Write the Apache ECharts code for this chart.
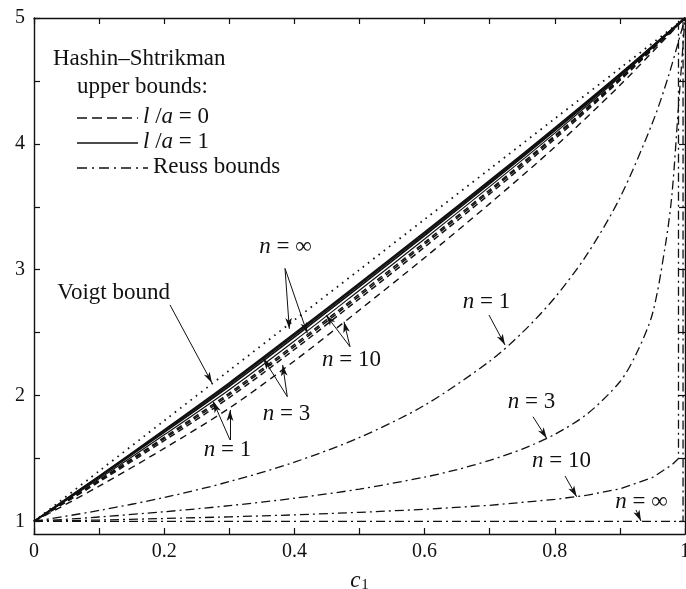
<!DOCTYPE html>
<html>
<head>
<meta charset="utf-8">
<script src="https://cdn.jsdelivr.net/npm/echarts@6/dist/echarts.min.js"></script>
<style>
  html, body { margin: 0; padding: 0; background: #fff; }
  #chart { width: 686px; height: 589px; }
</style>
</head>
<body>
<div id="chart"></div>
<script>
// axis ticks / labels
const xTicks = [0, 0.1, 0.2, 0.3, 0.4, 0.5, 0.6, 0.7, 0.8, 0.9, 1];
const xLabels = [0, 0.2, 0.4, 0.6, 0.8, 1];
const yTicks = [1, 1.5, 2, 2.5, 3, 3.5, 4, 4.5, 5];
const yLabels = [1, 2, 3, 4, 5];

// c1 grid for the upper bounds
const cGrid = [0, 0.1, 0.2, 0.3, 0.4, 0.5, 0.6, 0.7, 0.8, 0.9, 1];
const voigt = [1, 1.4, 1.8, 2.2, 2.6, 3.0, 3.4, 3.8, 4.2, 4.6, 5];

// Hashin-Shtrikman upper bounds, l/a = 1 (solid)
const hsSolidInf = [1, 1.360, 1.727, 2.101, 2.493, 2.894, 3.299, 3.709, 4.126, 4.555, 5];
const hsSolid10 = [1, 1.356, 1.719, 2.089, 2.480, 2.882, 3.287, 3.698, 4.117, 4.550, 5];
const hsSolid3 = [1, 1.350, 1.708, 2.074, 2.464, 2.866, 3.272, 3.685, 4.106, 4.543, 5];
const hsSolid1 = [1, 1.339, 1.688, 2.047, 2.434, 2.837, 3.244, 3.660, 4.085, 4.531, 5];

// Hashin-Shtrikman upper bounds, l/a = 0 (dashed)
const hsDashInf = [1, 1.328, 1.668, 2.020, 2.405, 2.808, 3.217, 3.635, 4.065, 4.519, 5];
const hsDash10 = [1, 1.322, 1.657, 2.005, 2.389, 2.792, 3.202, 3.621, 4.054, 4.512, 5];
const hsDash3 = [1, 1.314, 1.642, 1.984, 2.366, 2.770, 3.180, 3.602, 4.038, 4.503, 5];
const hsDash1 = [1, 1.280, 1.580, 1.900, 2.275, 2.680, 3.095, 3.525, 3.975, 4.465, 5];

// Reuss bounds (dash-dot)
const reuss1X = [0, 0.1, 0.2, 0.3, 0.4, 0.5, 0.6, 0.7, 0.75, 0.8, 0.85, 0.9, 0.95, 0.975, 1];
const reuss1Y = [1, 1.087, 1.190, 1.316, 1.471, 1.667, 1.923, 2.273, 2.5, 2.778, 3.125, 3.571, 4.167, 4.545, 5];
const reuss3X = [0, 0.1, 0.2, 0.3, 0.4, 0.5, 0.6, 0.65, 0.7, 0.75, 0.8, 0.85, 0.9, 0.925, 0.95, 0.97, 0.98, 0.99, 1];
const reuss3Y = [1, 1.035, 1.077, 1.125, 1.184, 1.257, 1.352, 1.412, 1.485, 1.575, 1.692, 1.855, 2.11, 2.33, 2.65, 3.2, 3.6, 4.3, 5];
const reuss10X = [0, 0.1, 0.2, 0.3, 0.4, 0.5, 0.6, 0.7, 0.8, 0.85, 0.9, 0.95, 0.98, 0.99, 0.99];
const reuss10Y = [1, 1.011, 1.023, 1.036, 1.052, 1.072, 1.096, 1.128, 1.175, 1.209, 1.259, 1.349, 1.45, 1.5, 5];
const reussInfX = [0, 0.997, 0.997];
const reussInfY = [1, 1, 5];

// annotation texts and arrows (data coordinates)
const notes = [
  { text: 'Voigt bound', at: [0.123, 2.815] },
  { text: '{i|n} = ∞', at: [0.387, 3.173] },
  { text: '{i|n} = 10', at: [0.4885, 2.275] },
  { text: '{i|n} = 3', at: [0.3886, 1.85] },
  { text: '{i|n} = 1', at: [0.298, 1.567] },
  { text: '{i|n} = 1', at: [0.696, 2.743] },
  { text: '{i|n} = 3', at: [0.765, 1.949] },
  { text: '{i|n} = 10', at: [0.811, 1.480] },
  { text: '{i|n} = ∞', at: [0.934, 1.154] }
];
const arrows = [
  [[0.2089, 2.72], [0.2734, 2.10]],
  [[0.3856, 3.01], [0.3922, 2.53]],
  [[0.3856, 3.01], [0.4198, 2.495]],
  [[0.4854, 2.388], [0.4485, 2.64]],
  [[0.4854, 2.388], [0.4762, 2.587]],
  [[0.3891, 1.991], [0.3522, 2.296]],
  [[0.3891, 1.991], [0.382, 2.243]],
  [[0.3011, 1.647], [0.2754, 1.951]],
  [[0.3011, 1.647], [0.3011, 1.885]],
  [[0.6989, 2.640], [0.7235, 2.402]],
  [[0.7665, 1.832], [0.7876, 1.660]],
  [[0.8157, 1.361], [0.8336, 1.196]],
  [[0.9247, 1.091], [0.9324, 1.003]]
];

const ink = '#111';
const serif = 'Liberation Serif, Times New Roman, serif';
const DASH = [6, 4];
const DASHDOT = [9, 4, 2, 4];

const zip = (xs, ys) => xs.map((x, i) => [x, ys[i]]);

const lineSeries = (data, type, width) => ({
  type: 'line',
  data: data,
  showSymbol: false,
  symbol: 'none',
  smooth: 0.3,
  silent: true,
  lineStyle: { color: ink, width: width, type: type }
});

const chart = echarts.init(document.getElementById('chart'));

const tickStyle = { color: ink, width: 1.2 };
const axisLineStyle = { color: ink, width: 1.4 };
const italic = { fontFamily: serif, fontStyle: 'italic', fontSize: 23, fill: ink };

const option = {
  animation: false,
  backgroundColor: '#fff',
  grid: { left: 34, right: 1, top: 18, bottom: 55, outerBoundsMode: 'none', containLabel: false },
  xAxis: [
    {
      type: 'value', min: 0, max: 1, position: 'bottom',
      axisLine: { show: true, onZero: false, lineStyle: axisLineStyle },
      axisTick: { show: true, inside: true, length: 6, customValues: xTicks, lineStyle: tickStyle },
      axisLabel: {
        customValues: xLabels, color: ink, fontFamily: serif, fontSize: 20, margin: 8,
        formatter: v => String(+(+v).toFixed(1))
      },
      splitLine: { show: false },
      name: '{c|c}{s|1}',
      nameLocation: 'middle',
      nameGap: 34,
      nameTextStyle: {
        rich: {
          c: { fontFamily: serif, fontStyle: 'italic', fontSize: 23, color: ink },
          s: { fontFamily: serif, fontSize: 15, color: ink, padding: [10, 0, 0, 1] }
        }
      }
    },
    {
      type: 'value', min: 0, max: 1, position: 'top',
      axisLine: { show: true, onZero: false, lineStyle: axisLineStyle },
      axisTick: { show: true, inside: true, length: 6, customValues: xTicks, lineStyle: tickStyle },
      axisLabel: { show: false },
      splitLine: { show: false }
    }
  ],
  yAxis: [
    {
      type: 'value', min: 0.9, max: 5, position: 'left',
      axisLine: { show: true, onZero: false, lineStyle: axisLineStyle },
      axisTick: { show: true, inside: true, length: 6, customValues: yTicks, lineStyle: tickStyle },
      axisLabel: { customValues: yLabels, color: ink, fontFamily: serif, fontSize: 20, margin: 9 },
      splitLine: { show: false }
    },
    {
      type: 'value', min: 0.9, max: 5, position: 'right',
      axisLine: { show: true, onZero: false, lineStyle: axisLineStyle },
      axisTick: { show: true, inside: true, length: 6, customValues: yTicks, lineStyle: tickStyle },
      axisLabel: { show: false },
      splitLine: { show: false }
    }
  ],
  series: [
    lineSeries(zip(cGrid, voigt), [1.6, 5], 1.8),
    lineSeries(zip(cGrid, hsSolidInf), 'solid', 1.7),
    lineSeries(zip(cGrid, hsSolid10), 'solid', 1.7),
    lineSeries(zip(cGrid, hsSolid3), 'solid', 1.7),
    lineSeries(zip(cGrid, hsSolid1), 'solid', 1.2),
    lineSeries(zip(cGrid, hsDashInf), DASH, 1.5),
    lineSeries(zip(cGrid, hsDash10), DASH, 1.5),
    lineSeries(zip(cGrid, hsDash3), DASH, 1.5),
    lineSeries(zip(cGrid, hsDash1), [7, 5], 1.4),
    lineSeries(zip(reuss1X, reuss1Y), DASHDOT, 1.3),
    lineSeries(zip(reuss3X, reuss3Y), DASHDOT, 1.3),
    Object.assign(lineSeries(zip(reuss10X, reuss10Y), DASHDOT, 1.3), { smooth: false }),
    Object.assign(lineSeries(zip(reussInfX, reussInfY), DASHDOT, 1.3), { smooth: false }),
    {
      type: 'scatter',
      silent: true,
      symbolSize: 1,
      itemStyle: { color: 'rgba(0,0,0,0)' },
      data: notes.map(n => ({ value: n.at, name: n.text })),
      label: {
        show: true,
        position: [0, 0],
        align: 'center',
        verticalAlign: 'middle',
        formatter: p => p.name,
        color: ink,
        opacity: 1,
        fontFamily: serif,
        fontSize: 23,
        rich: {
          i: { fontFamily: serif, fontStyle: 'italic', fontSize: 23, color: ink }
        }
      },
      markLine: {
        silent: true,
        symbol: ['none', 'arrow'],
        symbolSize: [5, 11],
        label: { show: false },
        lineStyle: { color: ink, width: 1, type: 'solid' },
        data: arrows.map(a => [{ coord: a[0] }, { coord: a[1] }])
      }
    }
  ],
  graphic: [
    { type: 'text', left: 53, top: 47, style: { text: 'Hashin–Shtrikman', fill: ink, font: '23px ' + serif } },
    { type: 'text', left: 77, top: 75, style: { text: 'upper bounds:', fill: ink, font: '23px ' + serif } },
    { type: 'line', shape: { x1: 77, y1: 118, x2: 138, y2: 118 }, style: { stroke: ink, lineWidth: 1.3, lineDash: [10, 5] } },
    {
      type: 'text', left: 143, top: 105,
      style: { text: '{i|l} /{i|a} = 0', fill: ink, font: '23px ' + serif, rich: { i: italic } }
    },
    { type: 'line', shape: { x1: 77, y1: 143, x2: 138, y2: 143 }, style: { stroke: ink, lineWidth: 1.5 } },
    {
      type: 'text', left: 143, top: 130,
      style: { text: '{i|l} /{i|a} = 1', fill: ink, font: '23px ' + serif, rich: { i: italic } }
    },
    { type: 'line', shape: { x1: 77, y1: 168, x2: 148, y2: 168 }, style: { stroke: ink, lineWidth: 1.3, lineDash: [10, 5, 2, 5] } },
    { type: 'text', left: 153, top: 155, style: { text: 'Reuss bounds', fill: ink, font: '23px ' + serif } }
  ]
};

chart.setOption(option);
</script>
</body>
</html>
